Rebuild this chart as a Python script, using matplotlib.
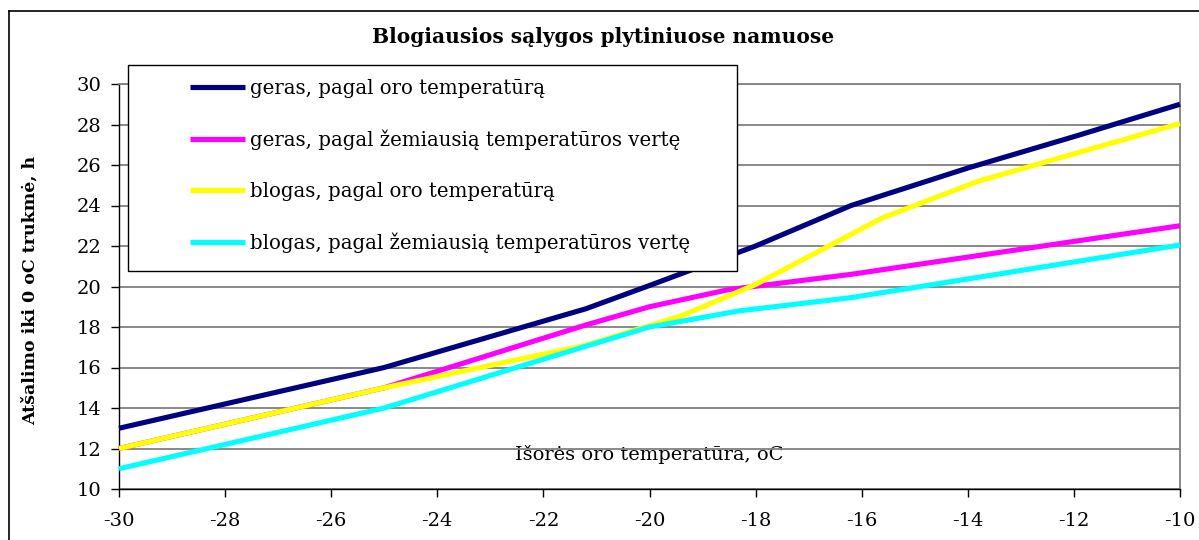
import matplotlib
matplotlib.use("Agg")
import matplotlib.pyplot as plt
from matplotlib.patches import Rectangle
from matplotlib.lines import Line2D

plt.rcParams['font.family'] = ['DejaVu Serif', 'Liberation Serif']
plt.rcParams['axes.unicode_minus'] = False

# ---- data ----
title = "Blogiausios sąlygos plytiniuose namuose"
xlabel = "Išorės oro temperatūra, oC"
ylabel = "Atšalimo iki 0 oC trukmė, h"

labels = [
    "geras, pagal oro temperatūrą",
    "geras, pagal žemiausią temperatūros vertę",
    "blogas, pagal oro temperatūrą",
    "blogas, pagal žemiausią temperatūros vertę",
]
colors = ["#000080", "#FF00FF", "#FFFF00", "#00FFFF"]

geras_oro_x = [-30, -25, -21.2, -20, -18, -16.2, -14, -12, -10]
geras_oro_y = [13, 16, 18.9, 20.05, 22.0, 24.0, 25.85, 27.4, 29.0]

geras_zem_x = [-30, -25, -21.2, -20, -18.5, -16.2, -10]
geras_zem_y = [12, 15, 18.1, 19.0, 19.85, 20.6, 23.0]

blogas_oro_x = [-30, -25, -21.2, -19.4, -18, -15.6, -13.8, -11.4, -10]
blogas_oro_y = [12, 15, 17.1, 18.55, 20.1, 23.4, 25.2, 27.0, 28.05]

blogas_zem_x = [-30, -25, -21.2, -20, -18.3, -16.2, -10]
blogas_zem_y = [11, 14, 17.05, 18.0, 18.8, 19.45, 22.05]

series_x = [geras_oro_x, geras_zem_x, blogas_oro_x, blogas_zem_x]
series_y = [geras_oro_y, geras_zem_y, blogas_oro_y, blogas_zem_y]

xticks = [-30, -28, -26, -24, -22, -20, -18, -16, -14, -12, -10]
yticks = [10, 12, 14, 16, 18, 20, 22, 24, 26, 28, 30]

# ---- figure ----
W, H = 1199, 540
fig = plt.figure(figsize=(W / 100, H / 100), dpi=100)
fig.patch.set_facecolor("white")

# outer chart border (left and top visible)
fig.add_artist(Line2D([8.5 / W, 8.5 / W], [0, 1 - 10.5 / H], color="black", lw=1.2))
fig.add_artist(Line2D([8.5 / W, 1], [1 - 10.5 / H, 1 - 10.5 / H], color="black", lw=1.2))

px_l, px_r, px_t, px_b = 119, 1180, 84, 489
ax = fig.add_axes([px_l / W, 1 - px_b / H, (px_r - px_l) / W, (px_b - px_t) / H])

handles = []
for xs, ys, c, lab in zip(series_x, series_y, colors, labels):
    ln, = ax.plot(xs, ys, color=c, lw=3.7, solid_capstyle="butt",
                  solid_joinstyle="round", label=lab, clip_on=False, zorder=3)
    handles.append(ln)

ax.set_xlim(-30, -10)
ax.set_ylim(10, 30)
ax.set_xticks(xticks)
ax.set_yticks(yticks)
ax.set_xticklabels([str(v) for v in xticks])
ax.set_yticklabels([str(v) for v in yticks])

ax.yaxis.grid(True, color="#808080", lw=1.3)
ax.set_axisbelow(True)

for s in ["left", "bottom"]:
    ax.spines[s].set_color("black")
    ax.spines[s].set_linewidth(1.0)
for s in ["top", "right"]:
    ax.spines[s].set_color("#808080")
    ax.spines[s].set_linewidth(1.3)

ax.tick_params(axis="both", direction="out", length=6, width=1.0, colors="black",
               labelsize=14)
ax.tick_params(axis="x", pad=10.5)
ax.tick_params(axis="y", pad=6.5)

# x label inside plot area
ax.set_xlabel(xlabel, fontsize=14)
ax.xaxis.set_label_coords((649 - px_l) / (px_r - px_l), (px_b - 455) / (px_b - px_t))
ax.xaxis.label.set_va("center")

ax.set_ylabel(ylabel, fontsize=12.5, fontweight="bold")
ax.yaxis.set_label_coords((30 - px_l) / (px_r - px_l), (px_b - 290) / (px_b - px_t))
ax.yaxis.label.set_va("center")

fig.text(603 / W, 1 - 37 / H, title, ha="center", va="center",
         fontsize=14.5, fontweight="bold")

# legend frame
lg_l, lg_t, lg_r, lg_b = 128, 65, 737, 271
ax.add_patch(Rectangle((lg_l / W, 1 - lg_b / H), (lg_r - lg_l) / W, (lg_b - lg_t) / H,
                       transform=fig.transFigure, facecolor="white", edgecolor="black",
                       lw=1.0, clip_on=False, zorder=4))

fs = 14.2
fs_px = fs * 100 / 72
leg = ax.legend(handles=handles, labels=labels, loc="upper left",
                bbox_to_anchor=(190 / W, 1 - 79 / H), bbox_transform=fig.transFigure,
                frameon=False, borderpad=0, borderaxespad=0,
                handlelength=55 / fs_px, handletextpad=0.25,
                labelspacing=1.6, fontsize=fs)
leg.set_zorder(5)

fig.savefig("out.png", dpi=100)
